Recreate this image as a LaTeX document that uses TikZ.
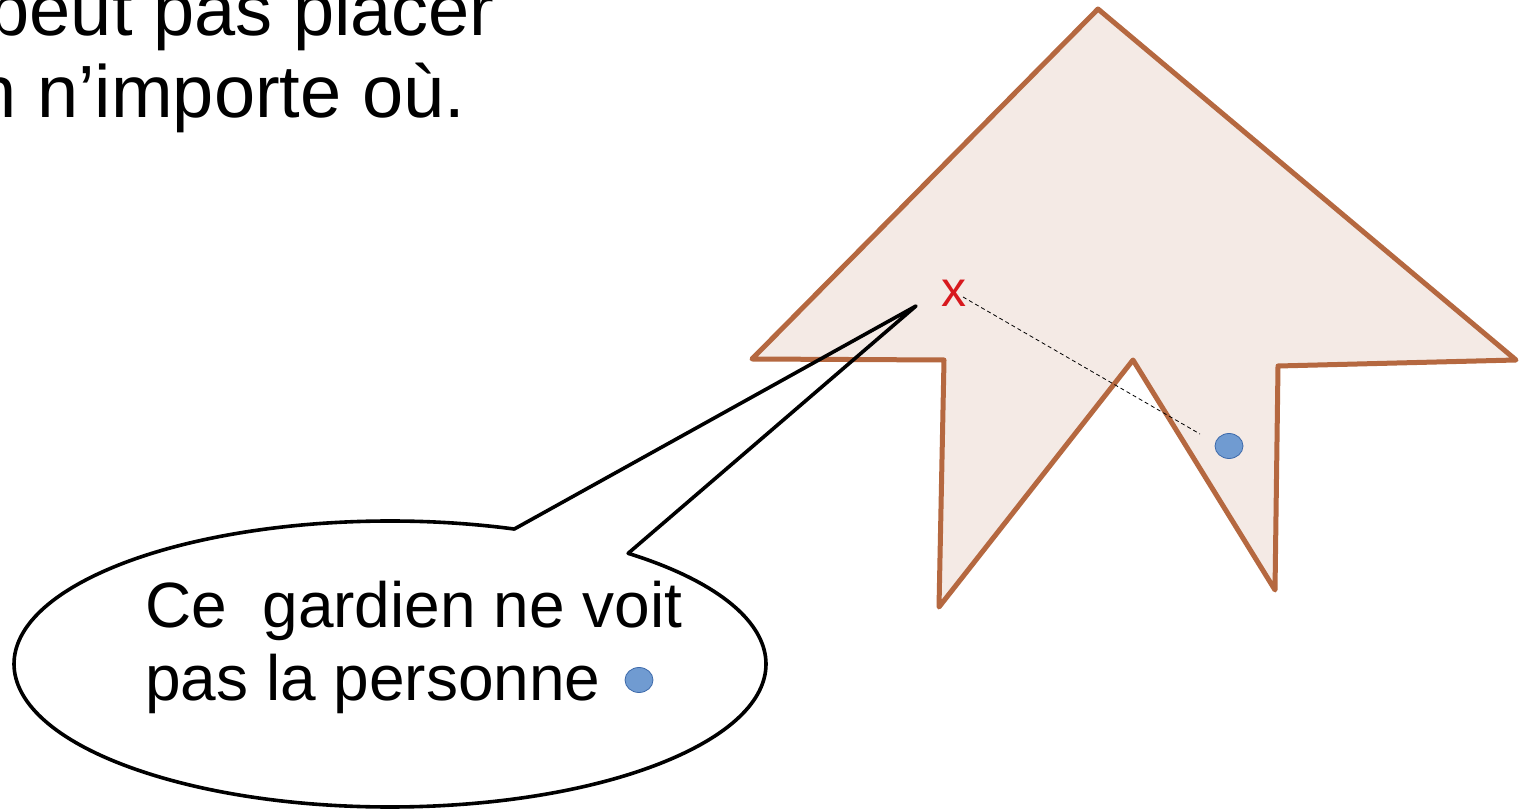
\documentclass[tikz,border=0pt]{standalone}
\usepackage{fontspec}
\setmainfont{Liberation Sans}
\usetikzlibrary{shapes.geometric,calc}
\definecolor{wallfill}{RGB}{244,234,229}
\definecolor{wallline}{RGB}{181,104,64}
\definecolor{dotfill}{RGB}{112,155,209}
\definecolor{dotline}{RGB}{60,105,170}
\definecolor{markred}{RGB}{215,25,30}
\tikzset{
  wall/.style={fill=wallfill, draw=wallline, line width=5pt, line join=round, line cap=round},
  persondot/.style={ellipse, fill=dotfill, draw=dotline, line width=0.8pt, minimum width=28pt, minimum height=25pt, inner sep=0pt},
  bubble/.style={draw=black, line width=3.6pt, line join=round},
  sight/.style={draw=black, line width=0.8pt, dash pattern=on 4pt off 3pt},
  bigtext/.style={inner sep=0pt, anchor=base west, font=\fontsize{74}{82}\selectfont},
  bubbletext/.style={inner sep=0pt, anchor=base west, align=left, font=\fontsize{64}{73}\selectfont},
}
\begin{document}
\begin{tikzpicture}[x=1pt,y=1pt]
\useasboundingbox (0,0) rectangle (1531,809);
\clip (0,0) rectangle (1531,809);
\fill[white] (0,0) rectangle (1531,809);
% polygon (art gallery)
\coordinate (A) at (1098,800);
\coordinate (B) at (1516,449);
\coordinate (C) at (1278,443);
\coordinate (D) at (1275,219);
\coordinate (E) at (1133,449);
\coordinate (F) at (939,202);
\coordinate (G) at (944,449);
\coordinate (H) at (752,450);
\draw[wall] (A) -- (B) -- (C) -- (D) -- (E) -- (F) -- (G) -- (H) -- cycle;
% guard and person
\node[text=markred, inner sep=0pt, anchor=base, font=\fontsize{50}{50}\selectfont] (guard) at (954,502) {x};
\node[persondot] (person) at (1229,363) {};
\coordinate (sightA) at (963,512);
\coordinate (sightB) at (1200,375);
\draw[sight] (sightA) -- (sightB);
% top text
\node[bigtext] (t1) at (-11.5,773) {peut pas placer};
\node[bigtext] (t2) at (-24.6,691) {n n’importe où.};
% speech bubble
\coordinate (ctr) at (390,145);
\coordinate (tip) at (916,503);
\draw[bubble] ($(ctr)+(70.7:376 and 143)$) -- (tip) -- ($(ctr)+(50.7:376 and 143)$)
  arc[start angle=50.7, end angle=-289.3, x radius=376, y radius=143] -- cycle;
\node[bubbletext] (bt) at (145,109) {Ce\ \ gardien ne voit\\pas la personne};
\node[persondot] (legend) at (639,129) {};
\end{tikzpicture}
\end{document}
